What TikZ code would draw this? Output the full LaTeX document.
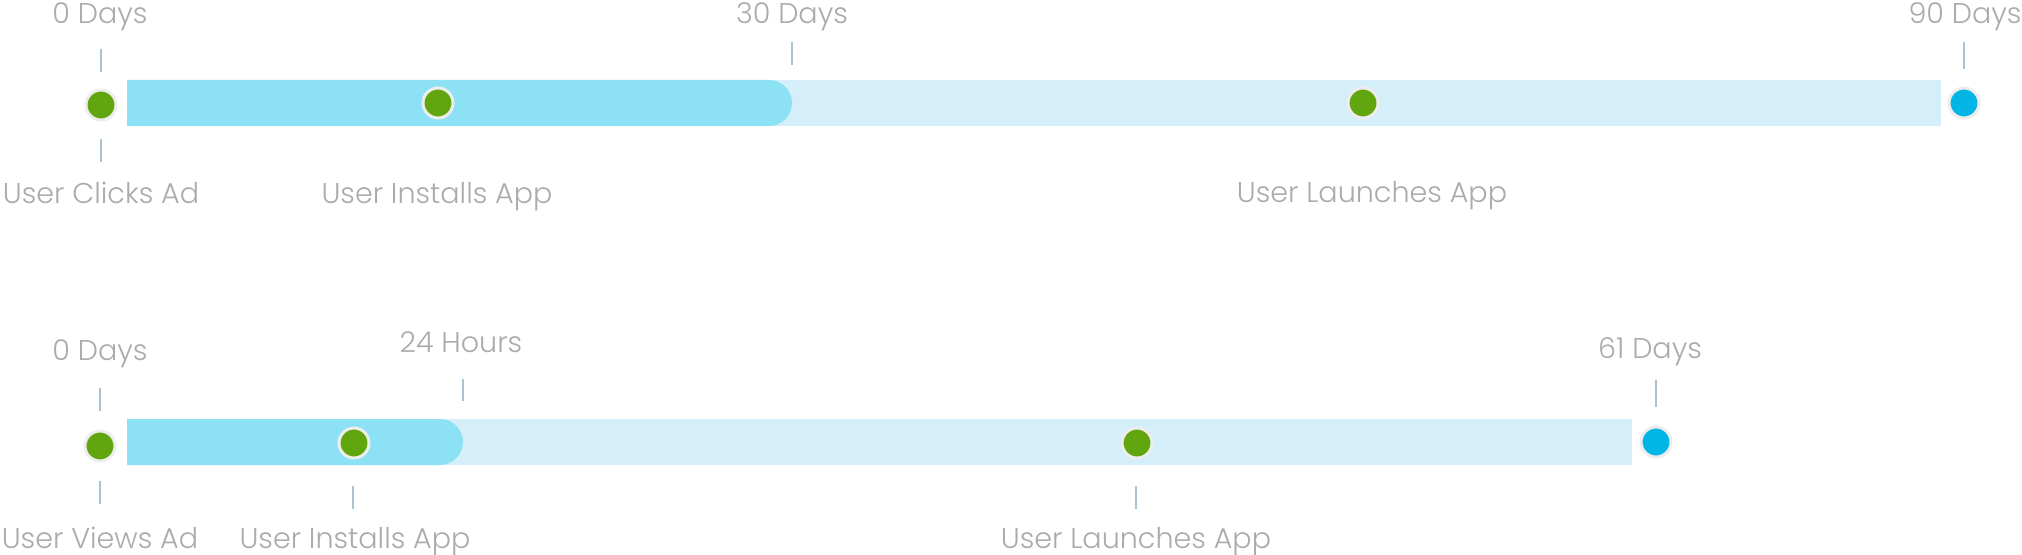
\documentclass[tikz,border=0pt]{standalone}
\usepackage{fontspec}
\setmainfont{Poppins}[UprightFont={* Light}]
\definecolor{darkbar}{HTML}{8DE1F5}
\definecolor{lightbar}{HTML}{D4EFF9}
\definecolor{dotgreen}{HTML}{62A60F}
\definecolor{dotblue}{HTML}{03B5E4}
\definecolor{ringgray}{HTML}{EDEDED}
\definecolor{tickcol}{HTML}{A9C4D0}
\definecolor{labelgray}{HTML}{ABABAB}
\tikzset{
  lbl/.style={anchor=base, text=labelgray, font=\fontsize{14.3}{16}\selectfont, inner sep=0pt},
  gdot/.style={circle, fill=dotgreen, draw=ringgray, line width=1.5pt, minimum size=15pt, inner sep=0pt},
  bdot/.style={circle, fill=dotblue, draw=ringgray, line width=1.5pt, minimum size=15pt, inner sep=0pt},
  tick/.style={draw=tickcol, line width=0.7pt},
}
\begin{document}
\begin{tikzpicture}[x=0.5pt,y=-0.5pt]
\useasboundingbox (0,0) rectangle (2022,555);
% ---- top timeline ----
\fill[lightbar] (127,80) rectangle (1941,126);
\fill[darkbar] (127,80) -- (769,80) arc[start angle=90,end angle=-90,radius=11.5pt] -- (127,126) -- cycle;
\node[gdot] (t0) at (101,105) {};
\node[gdot] (t1) at (438,103) {};
\node[gdot] (t2) at (1363,103) {};
\node[bdot] (t3) at (1964,103) {};
\node[lbl] (t0d) at (100,24) {0 Days};
\node[lbl] (t30d) at (792,24) {30 Days};
\node[lbl] (t90d) at (1965,24) {90 Days};
\node[lbl] (tclick) at (101,204) {User Clicks Ad};
\node[lbl] (tinst) at (437,204) {User Installs App};
\node[lbl] (tlaunch) at (1372,203) {User Launches App};
\coordinate (a1) at (101,49); \coordinate (a2) at (101,72);
\coordinate (a3) at (101,139); \coordinate (a4) at (101,162);
\coordinate (a5) at (792,42); \coordinate (a6) at (792,65);
\coordinate (a7) at (1964,42); \coordinate (a8) at (1964,69);
\draw[tick] (a1) -- (a2);
\draw[tick] (a3) -- (a4);
\draw[tick] (a5) -- (a6);
\draw[tick] (a7) -- (a8);
% ---- bottom timeline ----
\fill[lightbar] (127,419) rectangle (1632,465);
\fill[darkbar] (127,419) -- (440,419) arc[start angle=90,end angle=-90,radius=11.5pt] -- (127,465) -- cycle;
\node[gdot] (b0) at (100,446) {};
\node[gdot] (b1) at (354,443) {};
\node[gdot] (b2) at (1137,443) {};
\node[bdot] (b3) at (1656,442) {};
\node[lbl] (b0d) at (100,361) {0 Days};
\node[lbl] (b24h) at (461,353) {24 Hours};
\node[lbl] (b61d) at (1650,358) {61 Days};
\node[lbl] (bview) at (100,548) {User Views Ad};
\node[lbl] (binst) at (355,548) {User Installs App};
\node[lbl] (blaunch) at (1136,548) {User Launches App};
\coordinate (c1) at (100,388); \coordinate (c2) at (100,411);
\coordinate (c3) at (100,481); \coordinate (c4) at (100,504);
\coordinate (c5) at (463,379); \coordinate (c6) at (463,401);
\coordinate (c7) at (353,486); \coordinate (c8) at (353,509);
\coordinate (c9) at (1136,486); \coordinate (c10) at (1136,509);
\coordinate (c11) at (1656,380); \coordinate (c12) at (1656,407);
\draw[tick] (c1) -- (c2);
\draw[tick] (c3) -- (c4);
\draw[tick] (c5) -- (c6);
\draw[tick] (c7) -- (c8);
\draw[tick] (c9) -- (c10);
\draw[tick] (c11) -- (c12);
\end{tikzpicture}
\end{document}
